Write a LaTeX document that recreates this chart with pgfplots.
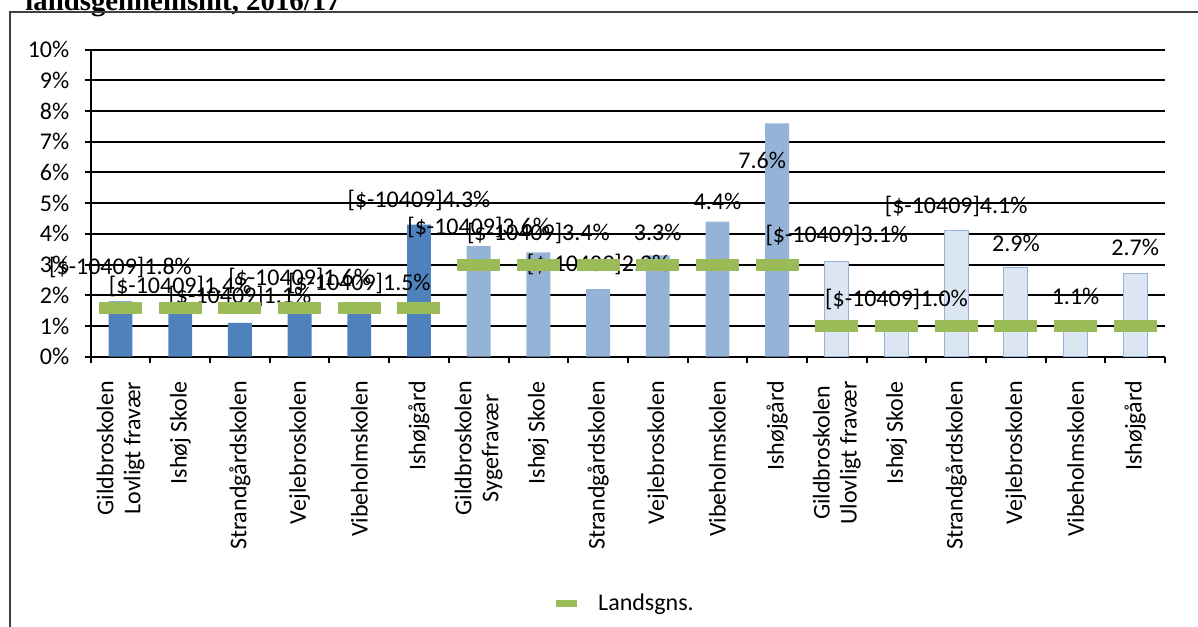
\documentclass[border=0pt]{standalone}
\usepackage{pgfplots}
\pgfplotsset{compat=1.18}
\usepackage{fontspec}
\setmainfont{Carlito}
\newfontfamily\titlefont{Liberation Serif}
\definecolor{barA}{HTML}{4F81BD}
\definecolor{barB}{HTML}{95B3D7}
\definecolor{barC}{HTML}{DCE6F2}
\definecolor{lgreen}{HTML}{9BBB59}
\newcommand{\fs}{\fontsize{12}{13.5}\selectfont}
\begin{document}
\begin{tikzpicture}
\useasboundingbox (0,0) rectangle (599pt,313pt);
\fill[white] (0,0) rectangle (599pt,313pt);
\node[anchor=base west, inner sep=0pt, font=\titlefont\bfseries\fontsize{14.4}{17}\selectfont] at (12.5pt,307.5pt) {landsgennemsnit, 2016/17};
\draw[line width=0.9pt, black!75] (5pt,-5pt) -- (5pt,307pt) -- (610pt,307pt);
\begin{axis}[
  at={(45.35pt,134.65pt)}, anchor=south west,
  scale only axis, width=537.2pt, height=153.5pt,
  xmin=0, xmax=18, ymin=0, ymax=10,
  clip=false,
  axis x line*=bottom, axis y line*=left,
  axis line style={black, line width=1pt},
  ymajorgrids, grid style={black, line width=1pt},
  ytick={0,...,10},
  yticklabels={0\%,1\%,2\%,3\%,4\%,5\%,6\%,7\%,8\%,9\%,10\%},
  xtick={0.5,1.5,...,17.5},
  xticklabels={{Gildbroskolen\\Lovligt fravær},Ishøj Skole,Strandgårdskolen,Vejlebroskolen,Vibeholmskolen,Ishøjgård,
    {Gildbroskolen\\Sygefravær},Ishøj Skole,Strandgårdskolen,Vejlebroskolen,Vibeholmskolen,Ishøjgård,
    {Gildbroskolen\\Ulovligt fravær},Ishøj Skole,Strandgårdskolen,Vejlebroskolen,Vibeholmskolen,Ishøjgård},
  minor xtick={0,1,...,18},
  major x tick style={draw=none},
  tick align=outside,
  major tick length=3pt, minor tick length=3pt,
  tick style={black, line width=1pt},
  ticklabel style={font=\fs},
  yticklabel style={inner sep=0pt, xshift=-7.5pt},
  xticklabel style={rotate=90, anchor=east, align=center, inner sep=0pt, xshift=-9pt},
  legend style={draw=none, fill=none, at={(0.4975,-0.8055)}, anchor=center, font=\fs},
  legend image code/.code={\draw[line width=3.5pt, lgreen] (0pt,0pt) -- (10.5pt,0pt); \path[draw=none, fill=none] (0pt,0pt) -- (19pt,0pt);},
]
\addplot[ybar, bar width=0.4, bar shift=0pt, fill=barA, draw=none, forget plot] coordinates {
  (0.5,1.8) (1.5,1.4) (2.5,1.1) (3.5,1.6) (4.5,1.5) (5.5,4.3)};
\addplot[ybar, bar width=0.4, bar shift=0pt, fill=barB, draw=none, forget plot] coordinates {
  (6.5,3.6) (7.5,3.4) (8.5,2.2) (9.5,3.3) (10.5,4.4) (11.5,7.6)};
\addplot[ybar, bar width=0.4, bar shift=0pt, fill=barC, draw=barB, line width=0.5pt, forget plot] coordinates {
  (12.5,3.1) (13.5,1.0) (14.5,4.1) (15.5,2.9) (16.5,1.1) (17.5,2.7)};
\addplot[draw=none, mark=none, forget plot, nodes near coords, point meta=explicit symbolic,
  every node near coord/.append style={anchor=center, font=\fs, black, inner sep=0pt}]
  table[x=x, y=y, meta=lab] {
x y lab
0.5 2.9 {[\$-10409]1.8\%}
1.5 2.3 {[\$-10409]1.4\%}
2.5 1.95 {[\$-10409]1.1\%}
3.5 2.55 {[\$-10409]1.6\%}
4.5 2.4 {[\$-10409]1.5\%}
5.5 5.1 {[\$-10409]4.3\%}
6.5 4.2 {[\$-10409]3.6\%}
7.5 4.0 {[\$-10409]3.4\%}
8.5 3.0 {[\$-10409]2.2\%}
9.5 4.05 {3.3\%}
10.5 5.05 {4.4\%}
11.25 6.4 {7.6\%}
12.5 3.95 {[\$-10409]3.1\%}
13.5 1.85 {[\$-10409]1.0\%}
14.5 4.9 {[\$-10409]4.1\%}
15.5 3.7 {2.9\%}
16.5 1.95 {1.1\%}
17.5 3.55 {2.7\%}
};
\addplot[only marks, mark=-, mark size=10.75pt, mark options={line width=6pt, lgreen, line cap=butt}] coordinates {
  (0.5,1.6) (1.5,1.6) (2.5,1.6) (3.5,1.6) (4.5,1.6) (5.5,1.6)
  (6.5,3.0) (7.5,3.0) (8.5,3.0) (9.5,3.0) (10.5,3.0) (11.5,3.0)
  (12.5,1.0) (13.5,1.0) (14.5,1.0) (15.5,1.0) (16.5,1.0) (17.5,1.0)};
\addlegendentry{Landsgns.}
\end{axis}
\end{tikzpicture}
\end{document}
